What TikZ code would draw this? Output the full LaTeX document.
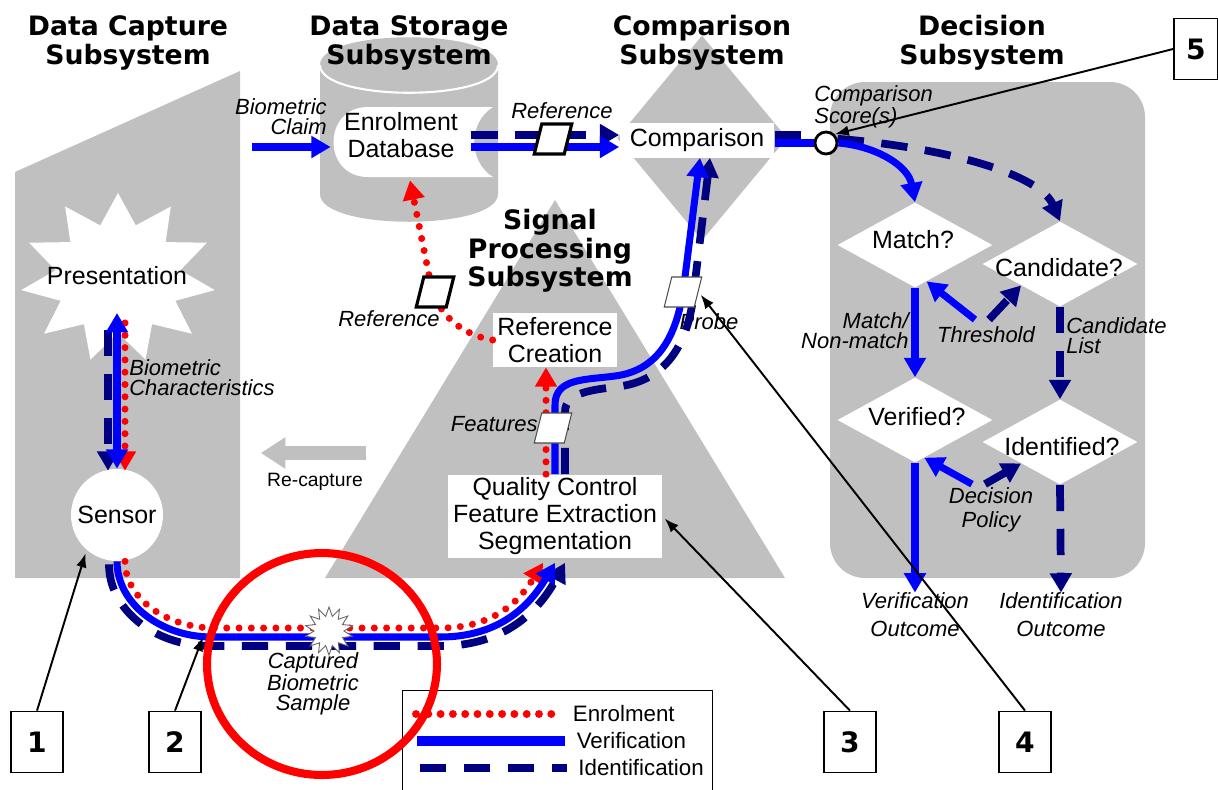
\documentclass[tikz,border=0pt]{standalone}
\usepackage{fontspec}
\setmainfont{Liberation Sans}
\newfontfamily\headfont{DejaVu Sans}
\usepackage{xcolor}
\usepackage{tikz}
\usetikzlibrary{shapes.geometric, arrows.meta, positioning, calc}
\definecolor{subgray}{RGB}{192, 192, 192}
\definecolor{enrolred}{RGB}{255, 0, 0}
\definecolor{verifblue}{RGB}{0, 0, 255}
\definecolor{identnavy}{RGB}{0, 0, 128}

\begin{document}
\begin{tikzpicture}[
    x=0.02cm, y=-0.02cm,
    >={Triangle[length=11pt,width=12pt]},
    head/.style={align=center, inner sep=0pt, font=\headfont\bfseries\fontsize{15.2}{16.3}\selectfont},
    txt/.style={align=center, inner sep=0pt, font=\fontsize{14.2}{15.4}\selectfont},
    tag/.style={align=center, inner sep=0pt, font=\itshape\fontsize{12.5}{11.5}\selectfont},
    whitebox/.style={rectangle, fill=white, inner sep=0pt, align=center, font=\fontsize{14.2}{15.4}\selectfont},
    query/.style={diamond, fill=white, inner sep=0pt, minimum width=3.1cm, minimum height=1.7cm},
    doc/.style={draw, fill=white, xslant=0.25, minimum width=0.6cm, minimum height=0.6cm, inner sep=0pt},
    callout/.style={draw, line width=1pt, fill=white, minimum width=1.04cm, minimum height=1.22cm, font=\headfont\bfseries\fontsize{16}{16}\selectfont},
    key/.style={anchor=west, inner sep=0pt, xshift=0.14cm, text=black, font=\fontsize{12.7}{13}\selectfont},
    enrol/.style={enrolred, line width=4pt, line cap=round, dash pattern=on 0pt off 7pt, ->},
    verif/.style={verifblue, line width=4pt, ->},
    ident/.style={identnavy, line width=4.4pt, dash pattern=on 15pt off 10pt, ->},
    recap/.style={subgray, line width=8.5pt, -{Triangle[length=14pt,width=17pt]}},
    pointer/.style={black, line width=1.1pt, -{Latex[length=8pt,width=6pt]}}
]
    \useasboundingbox (0,0) rectangle (1218,789);
    \fill[white] (0,0) rectangle (1218,789);

    % subsystem backdrops
    \fill[subgray] (15,172) -- (240,71) -- (240,578) -- (15,578) -- cycle;
    \fill[subgray] (320,65) -- (320,194) .. controls (320,231) and (498,231) .. (498,194)
        -- (498,65) .. controls (498,28) and (320,28) .. (320,65) -- cycle;
    \draw[white, line width=1.2pt] (320,65) .. controls (320,102) and (498,102) .. (498,65);
    \node[diamond, fill=subgray, minimum width=3.4cm, minimum height=4.1cm] (cmpzone) at (702,138) {};
    \fill[subgray] (325,578) -- (555,200) -- (785,578) -- cycle;
    \fill[subgray, rounded corners=0.7cm] (830,82) rectangle (1145,578);

    % white blocks
    \fill[white] (368,107) -- (493,107) .. controls (468,122) and (468,162) .. (493,177)
        -- (368,177) .. controls (322,177) and (322,107) .. (368,107) -- cycle;
    \node[txt, minimum width=2.8cm, minimum height=1.4cm] (db) at (401,135) {Enrolment\\Database};
    \node[whitebox, minimum width=3.1cm, minimum height=0.7cm] (comp) at (697,140) {Comparison};
    \node[whitebox, minimum width=2.48cm, minimum height=1.08cm] (refc) at (555,340) {Reference\\Creation};
    \node[whitebox, minimum width=4.28cm, minimum height=1.66cm] (qc) at (555,516) {Quality Control\\Feature Extraction\\Segmentation};
    \node[circle, fill=white, inner sep=0pt, minimum size=1.84cm, font=\fontsize{14.2}{15.4}\selectfont] (sensor) at (117,515) {Sensor};
    \node[star, star points=11, star point ratio=1.55, minimum size=3.4cm, inner sep=0pt, fill=white, xscale=1.15] (pres) at (118,278) {};
    \node[txt] (prestxt) at (117,276) {Presentation};

    \node[query] (match) at (915,245) {};
    \node[query] (cand) at (1060,264) {};
    \node[query] (okv) at (915,420) {};
    \node[query] (oki) at (1060,442) {};
    \node[txt] (matchtxt) at (913,240) {Match?};
    \node[txt] (candtxt) at (1059,268) {Candidate?};
    \node[txt] (okvtxt) at (917,417) {Verified?};
    \node[txt] (okitxt) at (1062,447) {Identified?};
    \node[circle, draw, line width=1.6pt, fill=white, inner sep=0pt, minimum size=0.44cm] (score) at (826,143) {};

    % headings
    \node[head] (capT) at (128,43) {Data Capture\\Subsystem};
    \node[head] (stoT) at (409,43) {Data Storage\\Subsystem};
    \node[head] (cmpT) at (702,43) {Comparison\\Subsystem};
    \node[head] (decT) at (982,43) {Decision\\Subsystem};
    \node[head] (sigT) at (550,251) {Signal\\Processing\\Subsystem};

    % flow labels
    \node[tag, align=right, anchor=east] (claimT) at (327,117) {Biometric\\Claim};
    \node[tag] (refT) at (562,111) {Reference};
    \node[tag, align=left, anchor=west] (scoreT) at (814,107) {Comparison\\Score(s)};
    \node[tag, align=right, anchor=east] (mnmT) at (909,331) {Match/\\Non-match};
    \node[tag] (thr) at (986,335) {Threshold};
    \node[tag, align=left, anchor=west] (listT) at (1066,336) {Candidate\\List};
    \node[tag, font=\itshape\fontsize{12.5}{14}\selectfont] (pol) at (991,510) {Decision\\Policy};
    \node[tag, font=\itshape\fontsize{12.5}{16}\selectfont] (vout) at (915,615) {Verification\\Outcome};
    \node[tag, font=\itshape\fontsize{12.5}{16}\selectfont] (iout) at (1061,615) {Identification\\Outcome};
    \node[tag, align=left, anchor=west] (charT) at (129,378) {Biometric\\Characteristics};
    \node[inner sep=0pt, font=\fontsize{11}{12}\selectfont] (rc) at (315,482) {Re-capture};
    \node[tag] (refT2) at (389,319) {Reference};
    \node[tag, anchor=east] (featT) at (538,424) {Features};
    \node[tag] (probeT) at (709,322) {Probe};
    \node[tag] (sampT) at (313,684) {Captured\\Biometric\\Sample};

    % capture
    \draw[ident] ($(pres.center)+(-10,52)$) -- ($(sensor.north)+(-9,2)$);
    \draw[enrol] ($(pres.center)+(7,45)$) -- ($(sensor.north)+(8,2)$);
    \draw[verif, <->] ($(pres.center)+(-1,35)$) -- (sensor.north);
    \draw[recap] ($(rc.north east)+(3,-20)$) -- ($(rc.north west)+(-6,-20)$);

    % sample to signal processing
    \draw[ident] ($(sensor.south)+(-8,3)$) .. controls (109,610) and (155,646) .. (210,646)
        -- (440,646) .. controls (510,646) and (542,605) .. ($(qc.south)+(10,5)$);
    \draw[enrol] ($(sensor.south)+(8,0)$) .. controls (125,598) and (166,628) .. (215,628)
        -- (440,628) .. controls (495,628) and (520,600) .. ($(qc.south)+(-12,5)$);
    \draw[verif] (sensor.south) .. controls (117,603) and (160,637) .. (212,637)
        -- (440,637) .. controls (500,637) and (530,605) .. ($(qc.south)+(0,5)$);
    \coordinate (bendL) at (203,637);

    % signal processing
    \draw[enrol] ($(qc.north)+(-9,0)$) -- ($(refc.south)+(-9,0)$);
    \draw[enrol] (refc.west) .. controls (462,335) and (440,315) .. (432,290) -- ($(db.south)+(9,10)$);
    \draw[ident] ($(qc.north)+(10,0)$) -- (565,412) .. controls (565,392) and (592,390) .. (622,386)
        .. controls (672,378) and (690,335) .. (694,290) -- ($(comp.south)+(13,0)$);
    \draw[verif] (qc.north) -- (555,405) .. controls (555,378) and (585,380) .. (615,376)
        .. controls (662,370) and (678,330) .. (684,285) -- ($(comp.south)+(3,0)$);

    % storage and comparison
    \coordinate (claimsrc) at (252,147);
    \draw[verif] (claimsrc) -- (claimsrc -| db.west);
    \draw[ident] (db.east) -- ($(comp.west)+(0,-5)$);
    \draw[verif] ($(db.east)+(0,12)$) -- ($(comp.west)+(0,7)$);
    \draw[ident, -] ($(comp.east)+(0,-5)$) -- ($(score.west)+(2,-8)$);
    \draw[verif, -] ($(comp.east)+(0,3)$) -- (score.west);

    % decision
    \draw[ident] (score.20) .. controls (950,148) and (1040,175) .. (cand.north);
    \draw[verif] (score.east) .. controls (875,146) and (908,165) .. (match.north);
    \draw[verif] (match.south) -- (okv.north);
    \draw[ident] (cand.south) -- (oki.north);
    \draw[verif] ($(thr.north)+(-11,-7)$) -- ($(match.south)!0.15!(match.east)$);
    \draw[ident] ($(thr.north)+(3,-7)$) -- (cand.south west);
    \draw[verif] ($(pol.north)+(-19,-3)$) -- ($(okv.south)!0.12!(okv.east)$);
    \draw[ident] ($(pol.north)+(-6,-3)$) -- (oki.south west);
    \draw[verif] (okv.south) -- (vout.north);
    \draw[ident] (oki.south) -- (iout.north);

    % data items on the flows
    \node[doc, line width=1.8pt] (refU) at (553,139) {};
    \node[doc, line width=1.8pt] (refD) at (435,292) {};
    \node[doc, line width=0.6pt, draw=black!70] (feat) at (553,428) {};
    \node[doc, line width=0.6pt, draw=black!70] (probe) at (683,292) {};
    \node[star, star points=14, star point ratio=1.6, minimum size=0.96cm, inner sep=0pt, fill=white, draw=black!60, line width=0.5pt] (snap) at (329,631) {};

    % legend
    \node[draw, line width=0.8pt, minimum width=6.2cm, minimum height=2.2cm, anchor=north west] (legend) at (402,690) {};
    \draw[enrol, -, line width=4.5pt] ($(legend.north west)+(14,24)$) -- +(146,0) node[key] (kE) {Enrolment};
    \draw[verif, -, line width=5.5pt] ($(legend.north west)+(15,51)$) -- +(148,0) node[key] (kV) {Verification};
    \draw[ident, -, line width=5pt] ($(legend.north west)+(18,78)$) -- +(147,0) node[key] (kI) {Identification};

    % numbered callouts
    \node[callout] (c1) at (37,742) {1};
    \node[callout] (c2) at (175,742) {2};
    \node[callout] (c3) at (850,742) {3};
    \node[callout] (c4) at (1025,742) {4};
    \node[callout, minimum width=0.88cm] (c5) at (1196,49) {5};
    \draw[pointer, shorten >=2pt] (c1.north) -- (sensor.229);
    \draw[pointer] (c2.north) -- (bendL);
    \draw[pointer, shorten >=2pt] (c3.north) -- (qc.east);
    \draw[pointer, shorten >=2pt] (c4.north) -- (probe.east);
    \draw[pointer] (c5.west) -- (score.north east);

    % highlight ring
    \draw[enrolred, line width=4.6pt] (322,664) ellipse [x radius=2.3cm, y radius=2.22cm];
\end{tikzpicture}
\end{document}
